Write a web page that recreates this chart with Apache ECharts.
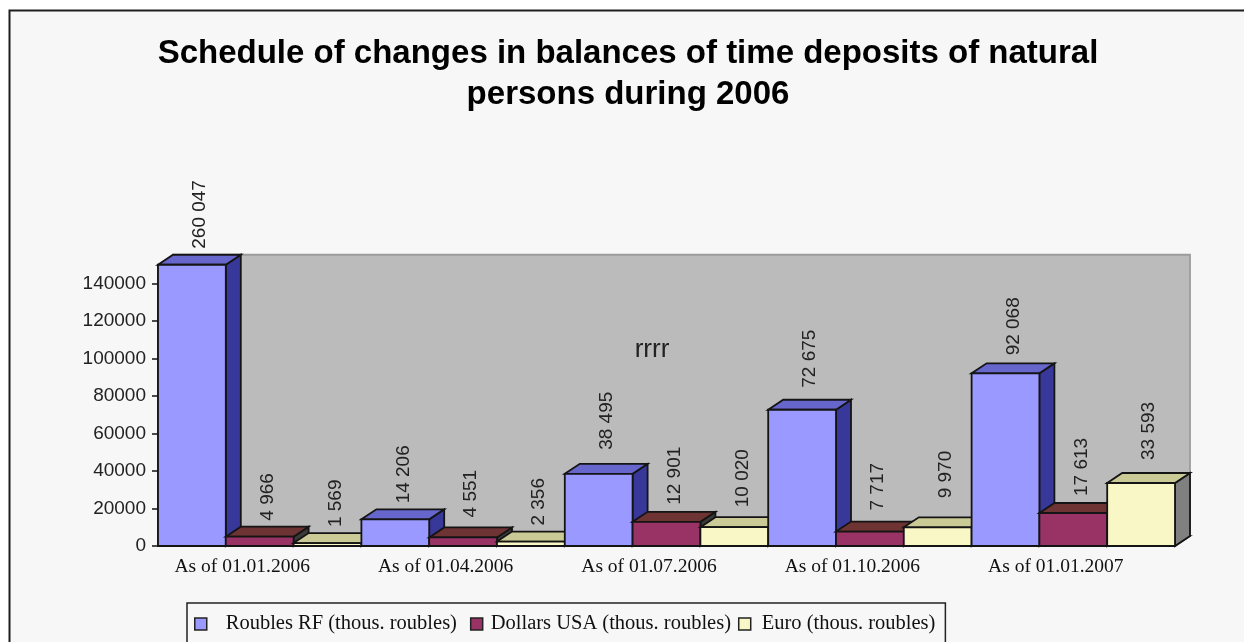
<!DOCTYPE html>
<html>
<head>
<meta charset="utf-8">
<style>html,body{margin:0;padding:0;background:#fff}#c{width:1244px;height:642px}</style>
<script src="https://cdn.jsdelivr.net/npm/echarts@6/dist/echarts.min.js"></script>
</head>
<body>
<div id="c"></div>
<script>
const titleText = 'Schedule of changes in balances of time deposits of natural\npersons during 2006';
const categories = ['As of 01.01.2006', 'As of 01.04.2006', 'As of 01.07.2006', 'As of 01.10.2006', 'As of 01.01.2007'];
const roubles = [260047, 14206, 38495, 72675, 92068];
const dollars = [4966, 4551, 12901, 7717, 17613];
const euro = [1569, 2356, 10020, 9970, 33593];
const yTicks = [0, 20000, 40000, 60000, 80000, 100000, 120000, 140000];
const yMax = 150000;
const seriesNames = ['Roubles RF (thous. roubles)', 'Dollars USA (thous. roubles)', 'Euro (thous. roubles)'];

const faces = [
  { front: '#9999FF', top: '#6666CC', side: '#38389A', lift: [0, 0, 8, 6, 2] },
  { front: '#993366', top: '#6E3333', side: '#3A3A3A', lift: [0, 4, 1, 5, 1] },
  { front: '#FAF7C6', top: '#CACA96', side: '#808080', lift: [0, 0, 4, 13, 7] }
];
const DX = 15, DY = -10, EDGE = '#141414';
const fmt = v => String(v).replace(/\B(?=(\d{3})+$)/g, ' ');

function poly(points, fill, z2, stroke) {
  return { type: 'polygon', z2, shape: { points }, style: { fill, stroke: stroke || EDGE, lineWidth: 1.8 }, silent: true };
}

function barSeries(idx, values) {
  return {
    type: 'custom',
    name: seriesNames[idx],
    z: 3,
    itemStyle: { color: faces[idx].front },
    encode: { x: 0, y: 1 },
    data: values.map((v, i) => [i, v]),
    renderItem(params, api) {
      const cat = api.value(0), val = api.value(1);
      const band = api.size([1, 0])[0];
      const w = band / 3;
      const base = api.coord([cat, 0]);
      const topPt = api.coord([cat, Math.min(val, yMax)]);
      const x0 = base[0] - band / 2 + idx * w, x1 = x0 + w;
      const b = base[1], t = topPt[1];
      const z = cat * 10 + idx;
      const f = faces[idx];
      return {
        type: 'group',
        children: [
          poly([[x1, t], [x1 + DX, t + DY], [x1 + DX, b + DY], [x1, b]], f.side, z),
          poly([[x0, t], [x0 + DX, t + DY], [x1 + DX, t + DY], [x1, t]], f.top, z),
          poly([[x0, b], [x0, t], [x1, t], [x1, b]], f.front, z),
          {
            type: 'text', z2: 500, silent: true,
            x: (x0 + x1) / 2 + 8, y: t + DY - 6 - f.lift[cat], rotation: Math.PI / 2,
            style: { text: fmt(values[cat]), fill: '#222', font: '19px "Liberation Sans"', textAlign: 'left', textVerticalAlign: 'middle' }
          }
        ]
      };
    }
  };
}

const wallSeries = {
  type: 'custom', z: 1, silent: true, encode: { x: 0, y: 1 }, data: [[0, 0]],
  renderItem(params) {
    const c = params.coordSys;
    const l = c.x, r = c.x + c.width, t = c.y, b = c.y + c.height;
    return {
      type: 'group',
      children: [
        poly([[l + DX, t + DY], [r + DX, t + DY], [r + DX, b + DY], [l + DX, b + DY]], '#BBBBBB', 0, '#9C9C9C'),
        poly([[l, b], [l + DX, b + DY], [r + DX, b + DY], [r, b]], '#BBBBBB', 0, '#555')
      ]
    };
  }
};

const chart = echarts.init(document.getElementById('c'), null, { renderer: 'canvas' });
chart.setOption({
  animation: false,
  backgroundColor: '#FFFFFF',
  title: {
    text: titleText, left: 623, top: 28, textAlign: 'center',
    textStyle: { fontFamily: 'Liberation Sans', fontWeight: 'bold', fontSize: 33, lineHeight: 41, color: '#000' }
  },
  graphic: [
    { type: 'rect', z: -10, silent: true, shape: { x: 9.5, y: 10.5, width: 1260, height: 660 },
      style: { fill: '#F7F7F7', stroke: '#1E1E1E', lineWidth: 2 } },
    { type: 'text', z: 10, silent: true, x: 652, y: 350,
      style: { text: 'rrrr', fill: '#222', font: '26px "Liberation Sans"', textAlign: 'center', textVerticalAlign: 'middle' } }
  ],
  legend: {
    left: 187, top: 603, orient: 'horizontal', icon: 'rect', itemWidth: 12, itemHeight: 12, itemGap: 7,
    padding: [9, 10, 8, 7], borderColor: '#222', borderWidth: 1.5, backgroundColor: '#F7F7F7',
    selectedMode: false,
    itemStyle: { borderColor: '#222', borderWidth: 1.5 },
    textStyle: { fontFamily: 'Liberation Serif', fontSize: 20.5, color: '#111', lineHeight: 20 },
    data: [
      { name: seriesNames[0], textStyle: { padding: [4, 6, 0, 14] } },
      { name: seriesNames[1], textStyle: { padding: [4, 0, 0, 3] } },
      { name: seriesNames[2], textStyle: { padding: [0, 0, 0, 6] } }
    ]
  },
  grid: { left: 158, right: 69, top: 264.75, bottom: 96 },
  xAxis: {
    type: 'category', data: categories, boundaryGap: true,
    axisLine: { lineStyle: { color: '#111', width: 1.5 } },
    axisTick: { alignWithLabel: false, length: 5, lineStyle: { color: '#111', width: 1.5 } },
    axisLabel: { interval: 0, margin: 11, color: '#111', fontFamily: 'Liberation Serif', fontSize: 19.5, padding: [0, 35, 0, 0] }
  },
  yAxis: {
    type: 'value', min: 0, max: yMax, interval: 20000,
    splitLine: { show: false },
    axisLine: { show: true, onZero: false, lineStyle: { color: '#111', width: 1.5 } },
    axisTick: { show: true, length: 6, customValues: yTicks, lineStyle: { color: '#111', width: 1.5 } },
    axisLabel: { margin: 12, color: '#222', fontFamily: 'Liberation Sans', fontSize: 19, customValues: yTicks, formatter: v => String(v) }
  },
  series: [wallSeries, barSeries(0, roubles), barSeries(1, dollars), barSeries(2, euro)]
});
</script>
</body>
</html>
